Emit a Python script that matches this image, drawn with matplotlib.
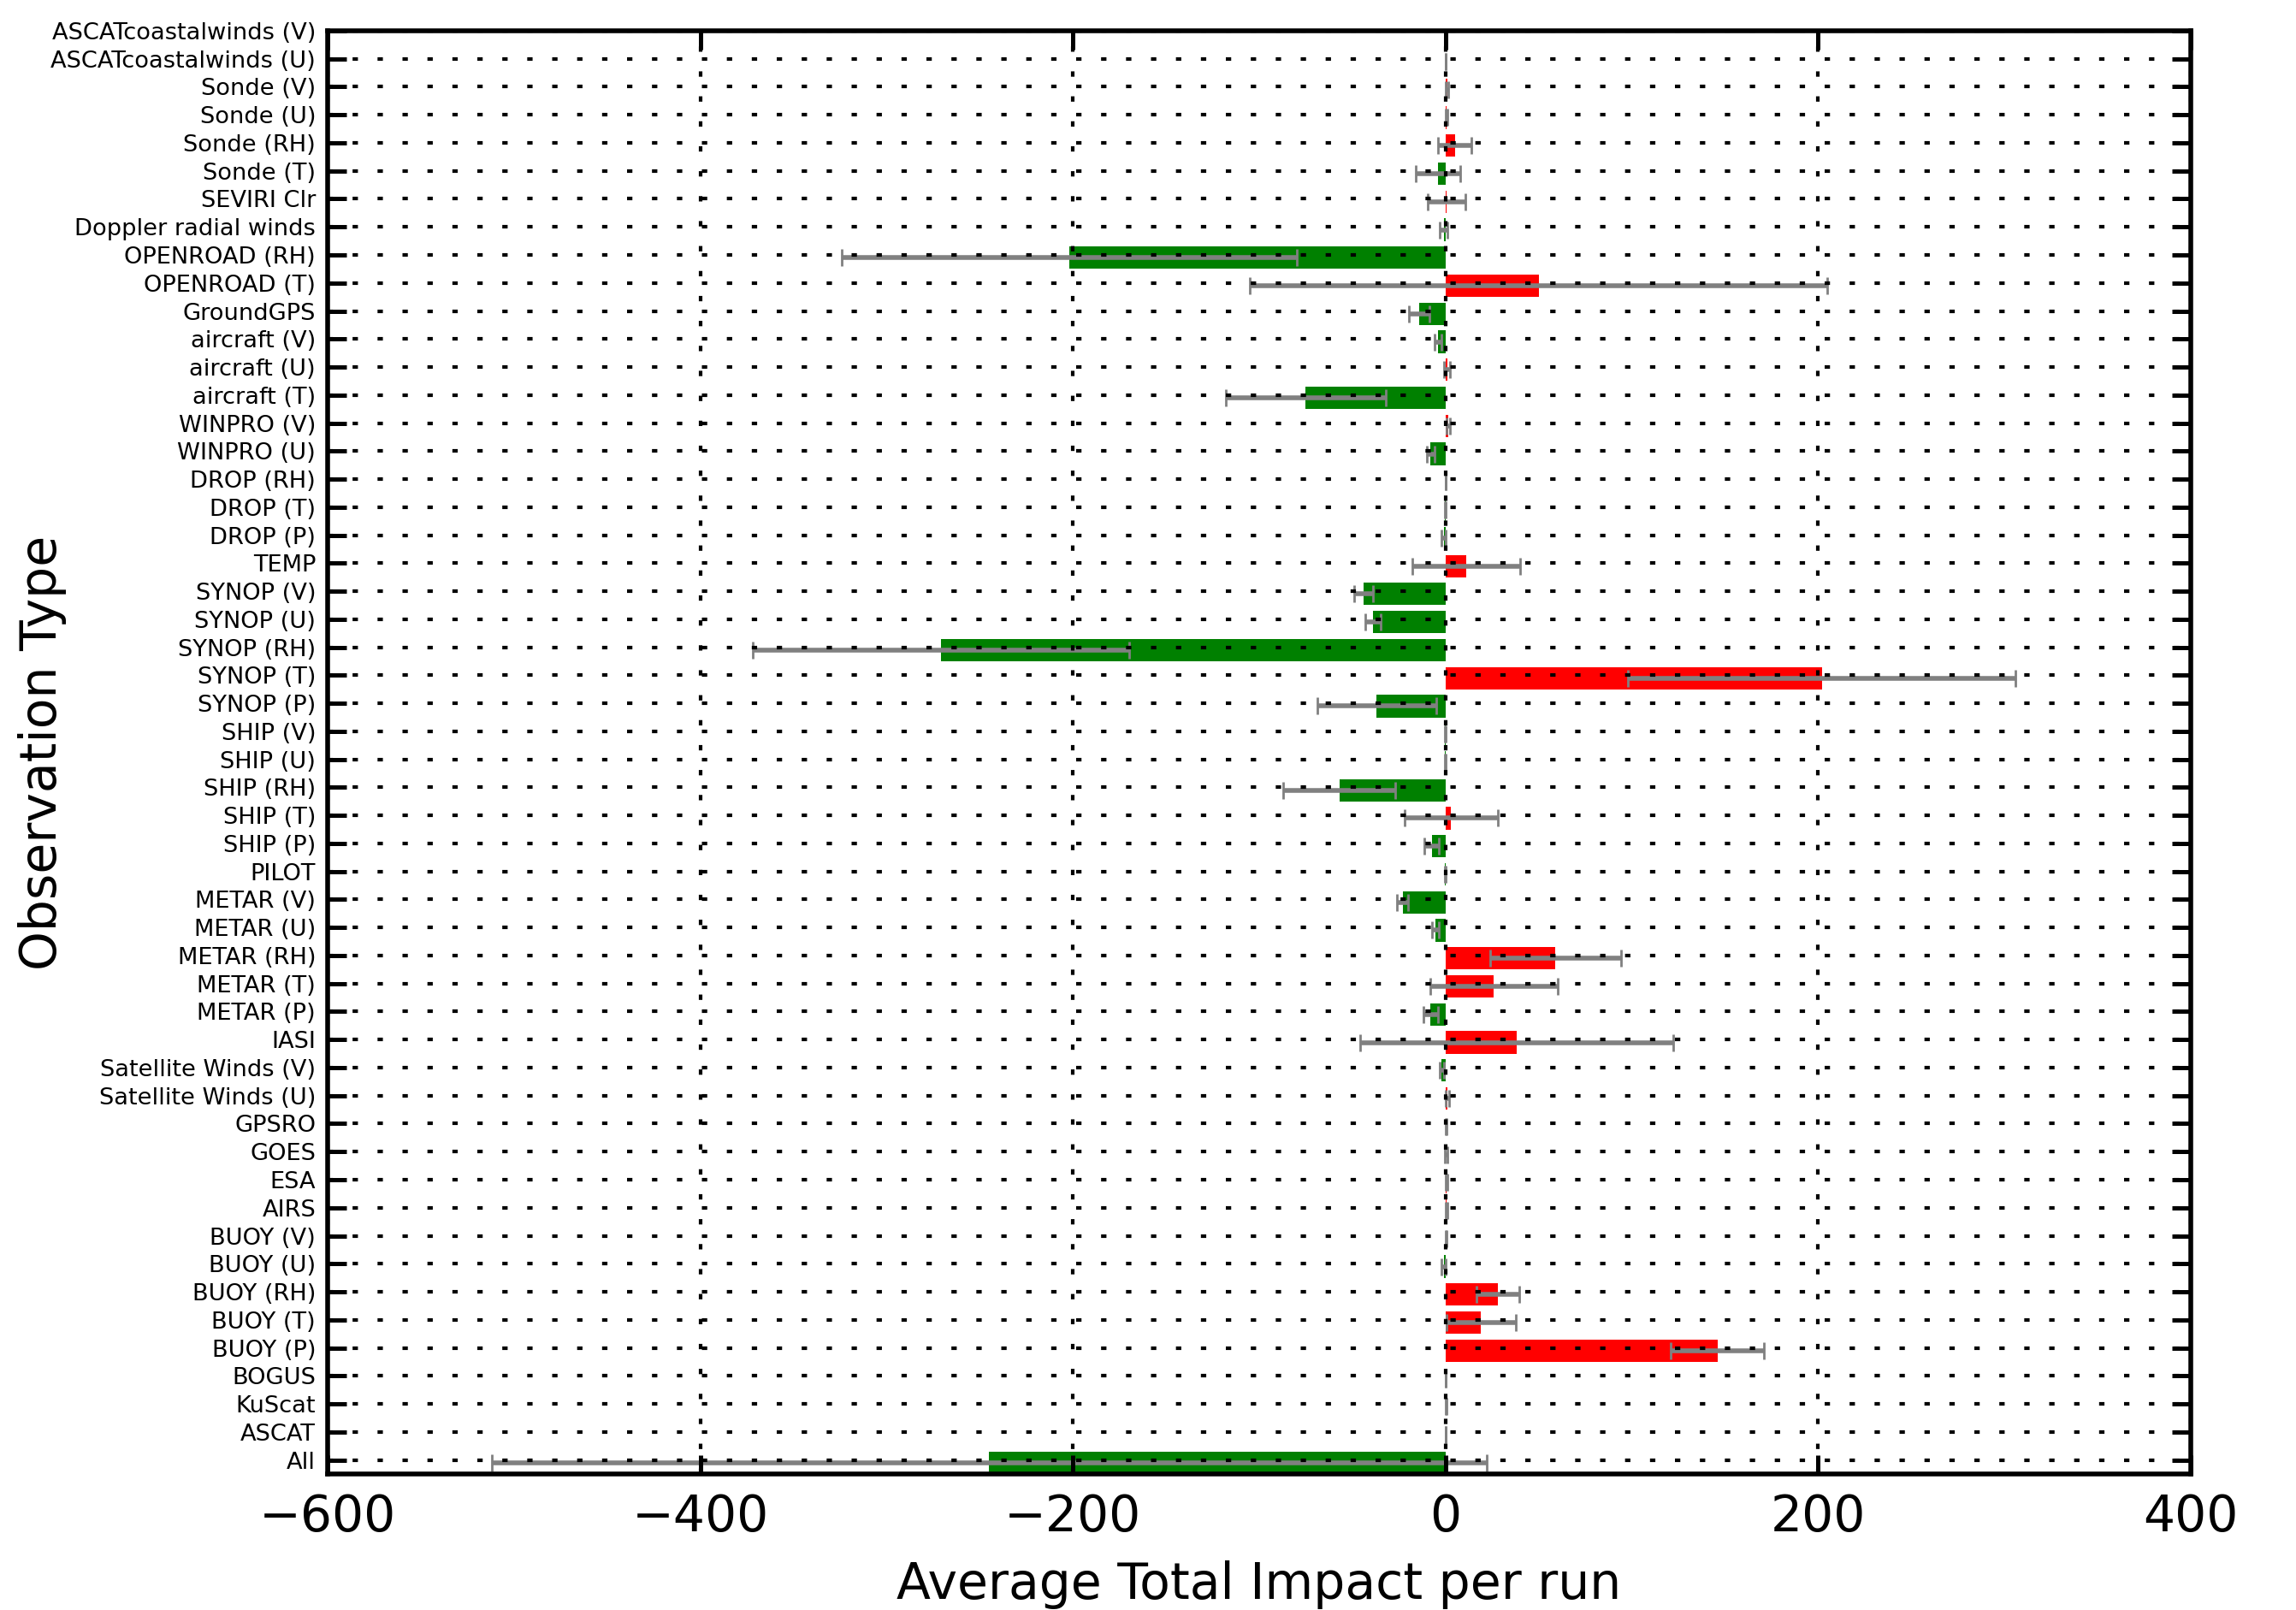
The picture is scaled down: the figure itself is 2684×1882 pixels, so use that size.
import numpy as np
import matplotlib
matplotlib.use("Agg")
import matplotlib.pyplot as plt

# observation types, listed top to bottom as in the chart
obs_types = ["ASCATcoastalwinds (V)", "ASCATcoastalwinds (U)", "Sonde (V)", "Sonde (U)",
             "Sonde (RH)", "Sonde (T)", "SEVIRI Clr", "Doppler radial winds",
             "OPENROAD (RH)", "OPENROAD (T)", "GroundGPS", "aircraft (V)", "aircraft (U)",
             "aircraft (T)", "WINPRO (V)", "WINPRO (U)", "DROP (RH)", "DROP (T)", "DROP (P)",
             "TEMP", "SYNOP (V)", "SYNOP (U)", "SYNOP (RH)", "SYNOP (T)", "SYNOP (P)",
             "SHIP (V)", "SHIP (U)", "SHIP (RH)", "SHIP (T)", "SHIP (P)", "PILOT",
             "METAR (V)", "METAR (U)", "METAR (RH)", "METAR (T)", "METAR (P)", "IASI",
             "Satellite Winds (V)", "Satellite Winds (U)", "GPSRO", "GOES", "ESA", "AIRS",
             "BUOY (V)", "BUOY (U)", "BUOY (RH)", "BUOY (T)", "BUOY (P)", "BOGUS",
             "KuScat", "ASCAT", "All"]

# average total impact per run
impact = [0, 0, 0.8, 0.5, 5, -4, 0.5, -1, -202, 50,
          -14, -4, 0.8, -75, 1.5, -8, 0, -0.3, -1, 11,
          -44, -39, -271, 202, -37, -0.3, -0.3, -57, 3, -7.5,
          -0.3, -23, -5.5, 59, 26, -8, 38, -2, 1, 0.3,
          0.3, 0.5, 0.5, 0.3, -1, 28, 19, 146, 0, 0.3,
          0, -245]

# error bar half widths
impact_err = [0, 0, 0.5, 0.5, 9, 12, 10, 2, 122, 155,
              5.5, 2, 1.5, 43, 1, 2, 0, 0.3, 1, 29,
              5, 4, 101, 104, 32, 0.3, 0.3, 30, 25, 4,
              0.3, 3, 2, 35, 34, 4, 84, 1, 1, 0.3,
              0.5, 0.5, 0.5, 0.3, 1, 11.5, 18.5, 25, 0, 0.3,
              0, 267]

x_ticks = [-600, -400, -200, 0, 200, 400]

# reverse so "All" sits at the bottom
labels = obs_types[::-1]
vals = np.array(impact[::-1])
errs = np.array(impact_err[::-1])
pos = np.arange(len(labels))
colors = ['#ff0000' if v > 0 else '#008000' for v in vals]

fig = plt.figure(figsize=(13.42, 9.41), dpi=200)
ax = fig.add_axes([0.1427, 0.0845, 0.9542 - 0.1427, 0.9809 - 0.0845])

ax.barh(pos, vals, height=0.8, align='edge', color=colors, edgecolor='none', zorder=1)
ax.errorbar(vals, pos + 0.4, xerr=errs, fmt='none', ecolor='#808080',
            elinewidth=2.0, capsize=3.5, capthick=1.0, zorder=2)

ax.set_xlim(-600, 400)
ax.set_ylim(0, 51.5)
ax.set_xticks(x_ticks)
ax.set_xticklabels([f"{t}".replace('-', '\u2212') for t in x_ticks], fontsize=21)
ax.set_yticks(pos + 0.5)
ax.set_yticklabels(labels, fontsize=9.8)

ax.tick_params(direction='in', top=True, right=True, length=8, width=1.8)
ax.tick_params(axis='x', pad=8)
ax.tick_params(axis='y', pad=5)
for s in ax.spines.values():
    s.set_linewidth(2)

ax.grid(True, color='k', linestyle=(0, (1.5, 5.5)), linewidth=1.5, zorder=3)
ax.set_axisbelow(False)

ax.set_xlabel('Average Total Impact per run', fontsize=21, labelpad=8)
ax.set_ylabel('Observation Type', fontsize=21)
ax.yaxis.set_label_coords(-0.140, 0.5)

fig.savefig('out.png', dpi=200)
